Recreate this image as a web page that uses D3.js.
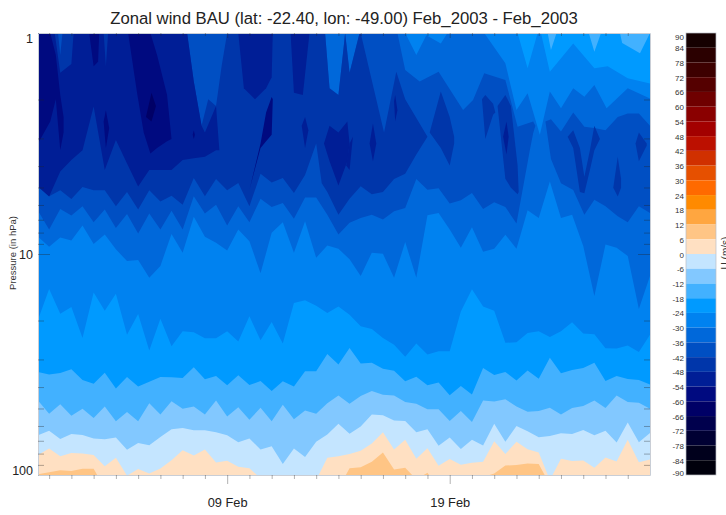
<!DOCTYPE html>
<html><head><meta charset="utf-8">
<script src="https://cdn.jsdelivr.net/npm/d3@7"></script>
<style>html,body{margin:0;padding:0;background:#fff}svg{display:block}text{font-family:"Liberation Sans",Arial,sans-serif}</style>
</head><body><div id="c"></div>
<script>
// Filled-contour chart. Each isoline is read off the picture at the 12-hourly columns (0..55),
// heights are 100*log10(pressure/hPa): 0 = 1 hPa, 100 = 10 hPa, 200 = 100 hPa.
const title = "Zonal wind BAU (lat: -22.40, lon: -49.00) Feb_2003 - Feb_2003";
const yLabel = "Pressure (in hPa)";
const barLabel = "U (m/s)";
const levels = [90,84,78,72,66,60,54,48,42,36,30,24,18,12,6,0,-6,-12,-18,-24,-30,-36,-42,-48,-54,-60,-66,-72,-78,-84,-90];
const bandColors = ["#150000","#2b0000","#3d0000","#550000","#6f0000","#8a0000","#a30000","#bc1000","#d03000","#e65000","#ff6a00","#ff8a00","#ffa640","#ffc585","#ffe0c2","#c4e5ff","#82c8ff","#42b1ff","#009aff","#0082f0","#0068da","#004fc3","#0036aa","#001e96","#000a80","#000066","#00004d","#000033","#00001c","#00000c"];
const pressureLabels = [1,10,100];
const dateLabels = ["2003-02-09","2003-02-19"];

// lower boundary of the region colder than each level
const iso6 = [199.7,198.8,197.8,198.2,197.2,197.2,206,206,206,206,206,206,206,206,
 206,206,206,206,206,206,206,206,206,206,206,206,206,206,
 197,196.5,194,189.8,197.5,196.7,202,199,206,206,206,206,201,199.3,
 195.7,195.5,194.8,195,204.4,206,206,206,206,206,206,206,206,206];
const iso0 = [191,188,191.5,190,190.3,191,196,192.2,200.3,197.3,199.3,197.1,193.3,188.8,
 191.2,188.5,194.3,193.6,196.3,196.9,201.5,202.3,202.3,202.3,202.3,202.3,192.2,191.5,
 190.5,189,185.8,180.7,188.5,184,192.7,187.9,195.8,192.8,195.4,194.5,194,184.7,
 190.5,185,188.3,189.8,202.3,192.7,193.7,193.4,196.7,192.1,193.9,184,194.2,193];
const isoM6 = [182,180,183.7,181.5,181.9,183.5,183.8,183,188.6,185.5,186.5,182.8,179.3,178.7,
 179.8,179.8,180.7,182,185.2,183.5,188.5,187,195,188,191.8,185,181.7,176.8,
 181.3,178,172.6,173,175.3,175.6,180.7,179.3,186.8,183,188.2,184,186.7,176.8,
 185,177.8,180.2,182.9,182.3,181.1,181.4,179.6,182,180,185.3,176.3,185.2,181];
const isoM12 = [166.3,172.3,168,173.2,170,174.2,169,175.7,171.5,175.7,167.5,172.6,166.6,170,
 169,172.6,166.3,173.5,169.3,175,169.6,175.7,168.2,174.8,170.8,172.3,167.5,164,
 167.8,164.3,162,163.7,164,167,167.8,170.3,170.3,175.6,171,176,166.3,166.7,
 165.7,169,171.4,171,169.6,172.6,169.7,168.8,166.3,169.7,164,167,167.3,170];
const isoM18 = [153.4,154.5,153.9,152.2,157,158.7,153.7,160.9,155.7,160,157.8,155.7,155.8,156.1,
 151.3,156.7,155.2,159.4,154.9,159.3,157.5,162,157.6,160,153.1,153,145.3,150,
 142.5,149.6,149.2,151.9,152.8,157.6,155.5,159.4,158.2,163.9,159.7,163.6,151.6,154.8,
 153.4,157.2,152.7,156.4,147,154,152.5,151.6,149.2,157.5,155.2,156.6,157,159];
const isoM24 = [129.7,115.8,127,124,138,117.4,125.7,118,136.5,127.2,143.7,129.3,141.7,135,
 135.4,138.1,138.1,135,139.6,128.2,139,130.8,140.5,122.2,120.9,123.4,126.7,123.7,
 127.5,132.7,133.9,138,141.1,146.5,140.5,145.5,144,144,126,115.9,123.7,125.7,
 140.2,139.9,135.7,135,137.5,135,130.9,136,136.3,142.6,142.8,141.4,144.3,136.5];
const isoM30 = [92.2,96.7,92.5,93.9,87.1,95.5,91.2,97.9,103.2,102.7,110.7,105.4,90.9,99.4,
 83.2,92.2,94.9,98.4,88.9,94.2,108.7,90.4,85.6,99.4,85.2,101.7,96.1,97.6,
 102.4,109.9,99.4,99.9,110.7,94.6,110.7,82.5,81.4,88.9,97.2,87.9,99,97.6,
 91.3,97.6,80.2,83.7,67.2,83.7,82.2,96.4,119,95.7,97.2,100.9,124.9,110];
const isoM36 = [80.4,88.9,79.6,82.6,78.4,85.6,79.9,88.2,81.9,90.7,81.7,88.9,80.4,88.9,
 73.9,81.7,77.7,87.1,78.4,85.6,75,78.7,76.9,84.1,74.4,74.4,82.2,91.2,
 85.9,83.7,82.2,84.4,80.7,79.2,66.1,70.9,70.2,77.2,75.7,72.4,79.6,76.6,78.7,86.2];
const isoM42 = [69.7,73.9,71.2,75.1,69.7,71.2,71.2,78.4,72,79.9,71.2,76.2,73.6,77.7,
 65.6,73.9,66.1,71.2,67.9,78.4,63.7,67.6,65.6,72.4,64.2];
const isoM48 = [69.5,74,62.7,57.5,53,33.3,62,48.4,59,69.5,62,62,62,57.5,56.7,56,53];

// upper boundaries [column, height] where a colder region does not reach 1 hPa
const topM18 = [[0,0],[45.8,0],[46.1,7.7],[46.6,0],[49.5,0],[50,8.5],[50.6,0],[52.3,0],[52.5,4.5],[54.1,9.2],[55,0]];
const topM24 = [[0,0],[43.1,0],[44,16],[44.9,0],[45.2,0],[46,17.5],[48.1,4.7],[50,16],[51.2,15],[53,20.5],[55,22.8]];
const topM30 = [[0,0],[33,0],[34,10],[34.9,1],[36.2,4.7],[36.8,0],[40.1,0],[42,13.7],[43,34.8],[44,27.3],[45.1,46],[46,26.5],[47,34],[48.1,25],[49.1,28.8],[50,23.5],[51.1,34],[53,25],[55,29.6]];
const topM36 = [[0,0],[25.8,0],[26.2,25],[27,28],[27.5,5],[27.6,0],[28,18],[28.9,0],[32.3,0],[33,16.7],[34.3,22],[36,17.5],[38.2,34.8],[39.1,30.3],[40.1,18.2],[42,21.3],[43.1,42.4],[44.5,40],[44.7,42]];
const tailM36 = [[44.2,53],[44.5,45.4],[44.7,42]];
const topM36b = [[45.6,40],[46.1,39],[47,44.6],[48.1,36],[49.1,42.4],[50,43],[51,44],[52.1,38],[53,36.4],[54,36.4],[55,42]];
const botM36b = [[45.6,40],[46.1,57],[47,68],[48.1,71],[49.1,82.2],[50,75.4],[51,78.4],[52.1,82.9],[53,85.6],[54,78.4],[55,81.4]];
const topM42 = [[0,0],[1.8,0],[2,10],[2.2,0],[13.4,0],[14,22],[14.7,42],[15.3,30],[16,33],[16.5,15],[17,0],[25.8,0],[26.2,25],[27,28],[27.5,5],[27.6,0],[28,18],[28.9,0],[29,0],[31.1,45],[32.2,17.5],[33,30],[35,47]];
const tailM42 = [[25,50],[25.5,68],[26,72],[27,82.2],[28,75],[29,69.4],[30,73],[31,72],[32,66.1],[33,63.7],[34,55],[35,47]];
const topM48 = [[0,0],[1.5,0],[2,18],[3,14],[3.2,0],[5.9,0],[6.1,15],[6.3,0],[13.4,0],[14,22],[14.7,42],[15,45],[16,33],[16.3,53]];
const tailM48 = [[16.3,53]];

// closed pockets [column, top, bottom]
const blobsM42 = [
 [[35.2,45,45],[36.2,26.5,52],[37,38,60],[37.4,47,50]],
 [[39.9,30,30],[40.2,28,48],[40.9,32,37],[41.1,36,36]],
 [[41.3,33,33],[42,28,66],[42.5,33,70],[43.1,60,73],[43.2,72,72]],
 [[47.6,47,47],[48.1,44,52],[48.7,52,72],[49.1,65,72.5],[49.6,53,62],[50,42,53],[50.5,48,48]],
 [[51.7,70,70],[52.1,56,74],[52.4,66,70]],
 [[53.7,50,50],[54,45,58],[54.7,50,51]]];
const blobsM48 = [
 [[18,0,0],[18.5,0,25],[19.5,0,30],[20.5,0,25],[21,0,20],[21.1,0,0]],
 [[22.7,0,0],[23,0,27],[23.8,0,28],[24.4,0,0]],
 [[25.7,50,50],[26.2,42,58],[27,45,69],[27.8,40,58],[28,50,50]],
 [[23.7,42,42],[24,38,52],[24.3,44,44]],
 [[29.8,50,50],[30.1,41,58],[30.4,50,50]],
 [[27.7,60,60],[28,50,62],[28.3,47,47]],
 [[32,31,31],[32.1,28,40],[32.3,35,35]],
 [[41.8,47,47],[42.1,40,55],[42.3,47,47]]];
const blobsM54 = [
 [[0,0,50],[1.1,0,40],[1.6,10,30],[2,28,53],[2.3,38,45]],
 [[8.1,0,0],[8.9,0,27],[9.5,0,45],[10.1,0,54.5],[10.7,10,52],[11.6,28,49],[12,48,48]],
 [[4.6,0,0],[5,0,15],[5.4,0,13],[5.5,0,0]],
 [[5.9,40,40],[6.1,35,52],[6.4,43,43]],
 [[13.9,46,46],[14,44,48],[14.1,46,46]],
 [[19,71,71],[20,50,52],[20.5,36,49],[21,29,46],[21.1,30,30]]];
const blobsM60 = [[[9.7,38,38],[10.2,27,40],[10.6,33,33]]];

const W=726,H=515, L=38,R=650,T=33,B=475, barL=686,barR=716;
const t0=Date.UTC(2003,0,31,12), halfDay=43200000;
const x=d3.scaleUtc().domain([new Date(t0),new Date(t0+55*halfDay)]).range([L,R]);
const y=d3.scaleLog().domain([1,100]).range([T,B]);
const color=d3.scaleOrdinal().domain(levels.slice(0,-1)).range(bandColors); // keyed by band's upper edge
const svg=d3.select("#c").append("svg").attr("width",W).attr("height",H);
svg.append("defs").append("clipPath").attr("id","plot").append("rect").attr("x",L).attr("y",T).attr("width",R-L).attr("height",B-T);
const plot=svg.append("g").attr("clip-path","url(#plot)");
const line=d3.line().x(d=>x(new Date(t0+d[0]*halfDay))).y(d=>y(Math.pow(10,d[1]/100)));
const series=a=>a.map((v,i)=>[i,v]);
const flat=[[0,0],[55,0]];
const lens=(top,bot)=>top.concat(bot.slice().reverse());
const blob=b=>lens(b.map(d=>[d[0],d[1]]),b.map(d=>[d[0],d[2]]));
plot.append("rect").attr("x",L).attr("y",T).attr("width",R-L).attr("height",B-T).attr("fill",color(12));
const draw=(upper,pts)=>plot.append("path").attr("d",line(pts)+"Z").attr("fill",color(upper));
draw(6,lens(flat,series(iso6)));
draw(0,lens(flat,series(iso0)));
draw(-6,lens(flat,series(isoM6)));
draw(-12,lens(flat,series(isoM12)));
draw(-18,lens(topM18,series(isoM18)));
draw(-24,lens(topM24,series(isoM24)));
draw(-30,lens(topM30,series(isoM30)));
draw(-36,lens(topM36,series(isoM36).concat(tailM36)));
draw(-36,lens(topM36b,botM36b));
draw(-42,lens(topM42,series(isoM42).concat(tailM42)));
blobsM42.forEach(b=>draw(-42,blob(b)));
draw(-48,lens(topM48,series(isoM48).concat(tailM48)));
blobsM48.forEach(b=>draw(-48,blob(b)));
blobsM54.forEach(b=>draw(-54,blob(b)));
blobsM60.forEach(b=>draw(-60,blob(b)));

// frame and axes
const tickStyle=g=>{g.select(".domain").attr("stroke","#c9ced6").attr("stroke-width",1);g.selectAll(".tick line").attr("stroke","#222").attr("stroke-opacity",.35);};
const minorP=[1,2,3,4,5,6,7,8,9,10,20,30,40,50,60,70,80,90,100];
const isMajor=p=>pressureLabels.includes(p);
const gL=svg.append("g").attr("transform",`translate(${L},0)`).call(d3.axisLeft(y).tickValues(minorP).tickSize(0).tickFormat(p=>isMajor(p)?String(p):""));
gL.selectAll(".tick line").attr("x1",0).attr("x2",p=>isMajor(p)?12:6);
gL.call(tickStyle);
gL.selectAll("text").attr("x",-5).attr("font-size",12.5).attr("fill","#222").attr("dy",p=>p===1?".78em":p===100?"-.05em":".35em");
const gR=svg.append("g").attr("transform",`translate(${R},0)`).call(d3.axisRight(y).tickValues(minorP).tickSize(0).tickFormat(""));
gR.selectAll(".tick line").attr("x1",0).attr("x2",p=>isMajor(p)?-12:-6);
gR.call(tickStyle);
const days=d3.utcDay.range(new Date(Date.UTC(2003,1,1)),new Date(Date.UTC(2003,1,28)));
const labelled=dateLabels.map(s=>+new Date(s+"T00:00:00Z"));
const isLab=d=>labelled.includes(+d);
const gB=svg.append("g").attr("transform",`translate(0,${B})`).call(d3.axisBottom(x).tickValues(days).tickSize(0).tickFormat(d=>isLab(d)?d3.utcFormat("%d %b")(d):""));
gB.selectAll(".tick line").attr("y2",d=>isLab(d)?9:4);
gB.call(tickStyle);
gB.selectAll("text").attr("y",27.6).attr("font-size",12.8).attr("fill","#222").attr("dy",".35em");
const gT=svg.append("g").attr("transform",`translate(0,${T})`).call(d3.axisTop(x).tickValues(days).tickSize(0).tickFormat(""));
gT.selectAll(".tick line").attr("y2",d=>isLab(d)?5:3);
gT.call(tickStyle);

// colour bar
const barY=d3.scaleLinear().domain([90,-90]).range([T,B]);
const bar=svg.append("g");
bar.selectAll("rect").data(levels.slice(0,-1)).join("rect").attr("x",barL).attr("width",barR-barL)
 .attr("y",d=>barY(d)).attr("height",d=>barY(d-6)-barY(d)).attr("fill",d=>color(d));
bar.append("rect").attr("x",barL).attr("y",T).attr("width",barR-barL).attr("height",B-T).attr("fill","none").attr("stroke","#b9bec6").attr("stroke-width",.7);
svg.append("g").selectAll("text").data(levels).join("text").text(d=>d).attr("x",684).attr("text-anchor","end")
 .attr("y",d=>barY(d)+(d===90?6.5:d===-90?1:3.5)).attr("font-size",8).attr("fill","#333");

svg.append("text").text(title).attr("x",344).attr("y",24).attr("text-anchor","middle").attr("font-size",16.7).attr("fill","#222");
svg.append("text").text(yLabel).attr("transform","translate(16,253) rotate(-90)").attr("text-anchor","middle").attr("font-size",9.5).attr("fill","#333");
svg.append("text").text(barLabel).attr("transform","translate(729,253) rotate(-90)").attr("text-anchor","middle").attr("font-size",10).attr("fill","#333");
</script></body></html>
